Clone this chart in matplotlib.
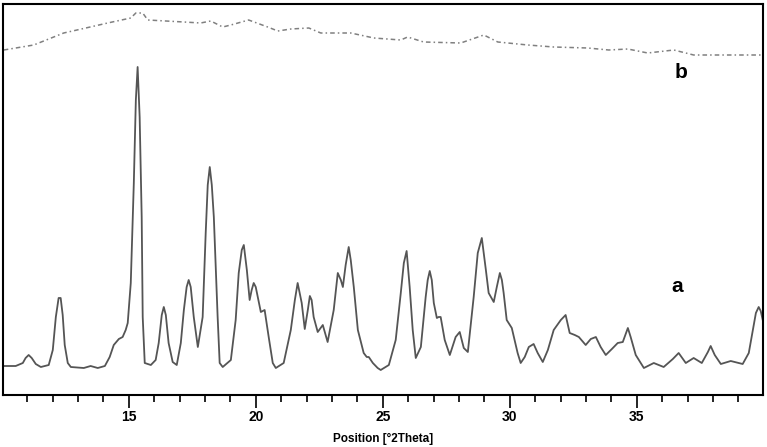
import matplotlib
matplotlib.use("Agg")
import matplotlib.pyplot as plt
from matplotlib.ticker import MultipleLocator

# Curve a (crystalline): 2theta and intensity (arbitrary units)
a_theta = [10.08, 10.55, 10.83, 10.94, 11.06, 11.18, 11.34, 11.54, 11.85, 12.01,
           12.13, 12.24, 12.32, 12.40, 12.48, 12.60, 12.72, 13.23, 13.50, 13.78,
           14.06, 14.25, 14.41, 14.61, 14.76, 14.88, 14.96, 15.08, 15.20, 15.28,
           15.35, 15.43, 15.51, 15.55, 15.63, 15.87, 16.06, 16.18, 16.30, 16.38,
           16.46, 16.57, 16.73, 16.89, 17.05, 17.17, 17.28, 17.36, 17.44, 17.56,
           17.72, 17.83, 17.91, 18.03, 18.11, 18.19, 18.27, 18.35, 18.50, 18.58,
           18.70, 19.02, 19.21, 19.33, 19.45, 19.53, 19.65, 19.76, 19.84, 19.92,
           20.00, 20.08, 20.20, 20.35, 20.51, 20.67, 20.79, 21.10, 21.38, 21.54,
           21.65, 21.81, 21.93, 22.05, 22.13, 22.20, 22.28, 22.44, 22.64, 22.83,
           23.07, 23.23, 23.35, 23.43, 23.54, 23.66, 23.74, 23.86, 24.02, 24.25,
           24.37, 24.45, 24.61, 24.80, 24.92, 25.24, 25.51, 25.71, 25.83, 25.94,
           26.06, 26.18, 26.30, 26.50, 26.69, 26.77, 26.85, 26.93, 27.01, 27.13,
           27.20, 27.28, 27.44, 27.64, 27.87, 28.03, 28.19, 28.35, 28.58, 28.74,
           28.90, 29.06, 29.17, 29.37, 29.49, 29.61, 29.69, 29.76, 29.88, 30.08,
           30.31, 30.43, 30.59, 30.75, 30.94, 31.10, 31.30, 31.50, 31.73, 32.01,
           32.20, 32.36, 32.56, 32.72, 32.99, 33.19, 33.39, 33.58, 33.78, 34.02,
           34.25, 34.45, 34.65, 34.76, 34.96, 35.28, 35.67, 36.06, 36.42, 36.65,
           36.93, 37.24, 37.56, 37.80, 37.91, 38.07, 38.31, 38.70, 39.17, 39.41,
           39.57, 39.69, 39.80, 39.88, 39.96]
a_int = [29, 29, 32, 37, 40, 37, 31, 28, 30, 45,
         78, 97, 97, 80, 50, 32, 28, 27, 29, 27,
         29, 38, 50, 56, 58, 65, 72, 112, 212, 295,
         328, 278, 178, 78, 32, 30, 35, 52, 80, 88,
         80, 52, 33, 30, 52, 85, 108, 115, 108, 78,
         48, 65, 78, 162, 210, 228, 210, 178, 78, 32,
         28, 35, 75, 122, 145, 150, 125, 95, 105, 112,
         108, 98, 83, 85, 58, 32, 27, 32, 65, 95,
         112, 92, 66, 85, 99, 95, 78, 63, 70, 53,
         85, 122, 115, 108, 130, 148, 135, 108, 65, 42,
         38, 38, 32, 27, 25, 30, 55, 102, 132, 144,
         108, 65, 37, 48, 98, 115, 124, 115, 92, 77,
         78, 78, 55, 40, 58, 63, 47, 43, 98, 142,
         157, 125, 102, 93, 108, 122, 115, 102, 75, 67,
         42, 32, 38, 48, 51, 42, 33, 45, 65, 75,
         80, 62, 60, 58, 50, 56, 58, 48, 40, 46,
         52, 53, 67, 58, 40, 27, 32, 28, 36, 42,
         32, 37, 32, 43, 49, 40, 31, 34, 31, 42,
         65, 82, 88, 84, 75]

# Curve b (amorphous)
b_theta = [10.08, 11.26, 12.44, 13.31, 14.17, 15.08, 15.28, 15.55, 15.75, 16.46, 17.17, 17.83, 18.23,
           18.70, 19.02, 19.72, 20.47, 20.87, 21.38, 22.09, 22.56, 23.74, 24.65, 25.71, 25.98, 26.61,
           28.07, 28.98, 29.53, 30.71, 31.73, 33.07, 33.90, 34.65, 35.43, 36.46, 37.24, 39.96]
b_int = [345, 350, 362, 367, 372, 377, 382, 382, 375, 374, 373, 372, 374,
         368, 370, 375, 368, 364, 366, 367, 362, 362, 357, 355, 358, 353,
         352, 360, 353, 350, 348, 347, 345, 346, 342, 345, 340, 340]

major_ticks = [15, 20, 25, 30, 35]
x_label = "Position [°2Theta]"

plt.rcParams['font.family'] = ['Liberation Sans', 'DejaVu Sans']

fig = plt.figure(figsize=(7.67, 4.47), dpi=100)
ax = fig.add_axes([3/767, 1 - 395/447, 760/767, 391/447])

ax.plot(a_theta, a_int, color='#555555', lw=1.3, solid_joinstyle='round')
ax.plot(b_theta, b_int, color='#808080', lw=1.1, linestyle=(0, (3, 2, 1, 2)))

ax.text(36.6, 108, 'a', fontsize=15, fontweight='bold', ha='center', va='center')
ax.text(36.75, 323, 'b', fontsize=15, fontweight='bold', ha='center', va='center')

ax.set_xlim(10.05, 39.97)
ax.set_ylim(0, 391)
ax.set_xticks(major_ticks)
ax.set_xticklabels([str(t) for t in major_ticks], fontweight='bold', fontsize=10)
ax.xaxis.set_minor_locator(MultipleLocator(1))
ax.tick_params(axis='x', which='major', direction='out', length=9, width=1.2, pad=2)
ax.tick_params(axis='x', which='minor', direction='out', length=5, width=1.2)
ax.tick_params(axis='y', left=False, labelleft=False)
for s in ax.spines.values():
    s.set_linewidth(1.5)
    s.set_color('black')

fig.text(383/767, 1 - 439/447, x_label, fontweight='bold', fontsize=8.5,
         ha='center', va='center')

fig.savefig('out.png', dpi=100)
